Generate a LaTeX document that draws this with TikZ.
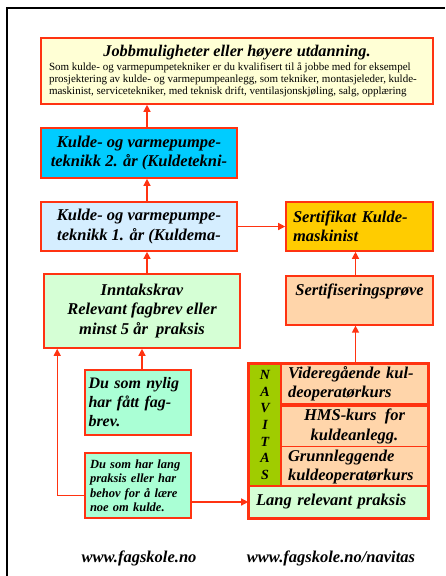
\documentclass[tikz,border=0pt]{standalone}
\usepackage{fontspec}
\setmainfont{Liberation Serif}
\usepackage{tikz}
\usetikzlibrary{arrows.meta,positioning}
\definecolor{rammerod}{RGB}{255,51,17}
\definecolor{gulhvit}{RGB}{255,255,213}
\definecolor{turkis}{RGB}{0,204,255}
\definecolor{lysbla}{RGB}{213,238,255}
\definecolor{gull}{RGB}{255,204,0}
\definecolor{lysgronn}{RGB}{213,255,213}
\definecolor{fersken}{RGB}{255,213,170}
\definecolor{mint}{RGB}{170,255,213}
\definecolor{navgronn}{RGB}{160,204,0}
\tikzstyle{arrow} = [rammerod, line width=1.3pt, -{Triangle[length=7pt,width=7pt]}]
\tikzstyle{boks} = [draw=rammerod, line width=1.6pt, inner sep=0pt, font=\stor\bfseries\itshape]
\newcommand{\titel}{\fontsize{16.3}{18}\selectfont\bfseries\itshape}
\newcommand{\stor}{\fontsize{16.5}{19.5}\selectfont}
\newcommand{\liten}{\fontsize{11}{12}\selectfont\mdseries\upshape}

\begin{document}
\begin{tikzpicture}[x=1pt,y=-1pt]
\useasboundingbox (0,0) rectangle (445,576);
\draw [line width=1.2pt] (7,576) -- (7,8) -- (445,8);

% venstre kolonne
\node[boks, fill=gulhvit, minimum width=392, minimum height=66] (jobb) at (237,71)
  {\begin{minipage}{376pt}
   {\centering\titel Jobbmuligheter eller høyere utdanning.\par}
   \vspace{2pt}
   {\liten\raggedright
   Som kulde- og varmepumpetekniker er du kvalifisert til å jobbe med for eksempel\\
   prosjektering av kulde- og varmepumpeanlegg, som tekniker, montasjeleder, kulde-\\
   maskinist, servicetekniker, med teknisk drift, ventilasjonskjøling, salg, opplæring\par}
   \end{minipage}};
\node[boks, fill=turkis, minimum width=196, minimum height=50, align=center] (aar2) at (139,153)
  {Kulde- og varmepumpe-\\teknikk 2. år (Kuldetekni-};
\node[boks, fill=lysbla, minimum width=196, minimum height=49, align=center] (aar1) at (139,226.5)
  {Kulde- og varmepumpe-\\teknikk 1. år (Kuldema-};
\node[boks, fill=lysgronn, minimum width=196, minimum height=74, align=center] (inntak) at (142,311)
  {Inntakskrav\\Relevant fagbrev eller\\minst 5 år\ \ praksis};
\node[boks, fill=mint, minimum width=106, minimum height=65, text width=99pt, align=left, font=\fontsize{16}{19}\selectfont\bfseries\itshape] (nylig) at (138,402.5)
  {Du som nylig\\har fått fag-\\brev.};
\node[boks, fill=mint, minimum width=106, minimum height=65, text width=96pt, align=left, font=\fontsize{12.5}{14.5}\selectfont\bfseries\itshape] (lang) at (138,485.5)
  {Du som har lang\\praksis eller har\\behov for å lære\\noe om kulde.};

% hoyre kolonne
\node[boks, fill=gull, minimum width=147, minimum height=49, text width=133pt, align=left] (sertifikat) at (359.5,226.5)
  {Sertifikat Kulde-\\maskinist};
\node[boks, fill=fersken, anchor=north, minimum width=147, text height=20pt, text depth=29pt, align=center] (proeve) at (359.5,275)
  {Sertifiseringsprøve};
\node[boks, fill=navgronn, minimum width=32, minimum height=122, align=center, font=\fontsize{14}{16.7}\selectfont\bfseries\itshape] (navitas) at (265,425)
  {N\\A\\V\\I\\T\\A\\S};
\node[boks, fill=fersken, minimum width=147, minimum height=40, text width=133pt, align=left] (vk) at (354.5,384)
  {Videregående kul-\\deoperatørkurs};
\node[boks, fill=fersken, minimum width=147, minimum height=41, align=center] (hms) at (354.5,426.5)
  {HMS-kurs\ \ for\\kuldeanlegg.};
\node[boks, fill=fersken, minimum width=147, minimum height=41, text width=133pt, align=left] (gk) at (354.5,467)
  {Grunnleggende\\kuldeoperatørkurs};
\node[boks, fill=lysgronn, minimum width=179, minimum height=32, text width=165pt, align=left] (praksis) at (338.5,502)
  {Lang relevant praksis};
\draw [draw=rammerod, line width=1.6pt] (navitas.north west) rectangle (praksis.south east);

\node[font=\stor\bfseries\itshape] (url1) at (139,558) {www.fagskole.no};
\node[font=\stor\bfseries\itshape] (url2) at (331,558) {www.fagskole.no/navitas};

% piler
\draw [arrow] ([xshift=8pt]aar2.north) -- ([xshift=8pt]jobb.south -| aar2.north);
\draw [arrow] ([xshift=8pt]aar1.north) -- ([xshift=8pt]aar2.south);
\draw [arrow] ([xshift=5pt]inntak.north) -- ([xshift=8pt]aar1.south);
\draw [arrow] (aar1.east) -- (sertifikat.west);
\draw [arrow] ([xshift=-4pt]proeve.north) -- ([xshift=-4pt]sertifikat.south);
\draw [arrow] (vk.north -| proeve.south) ++(-4pt,0) -- ([xshift=-4pt]proeve.south);
\draw [arrow] (nylig.north -| inntak.south) -- (inntak.south);
\draw [arrow] ([yshift=-10pt]lang.west) -| ([xshift=14pt]inntak.south west);
\draw [arrow] (lang.east |- praksis.west) -- (praksis.west);
\end{tikzpicture}
\end{document}
